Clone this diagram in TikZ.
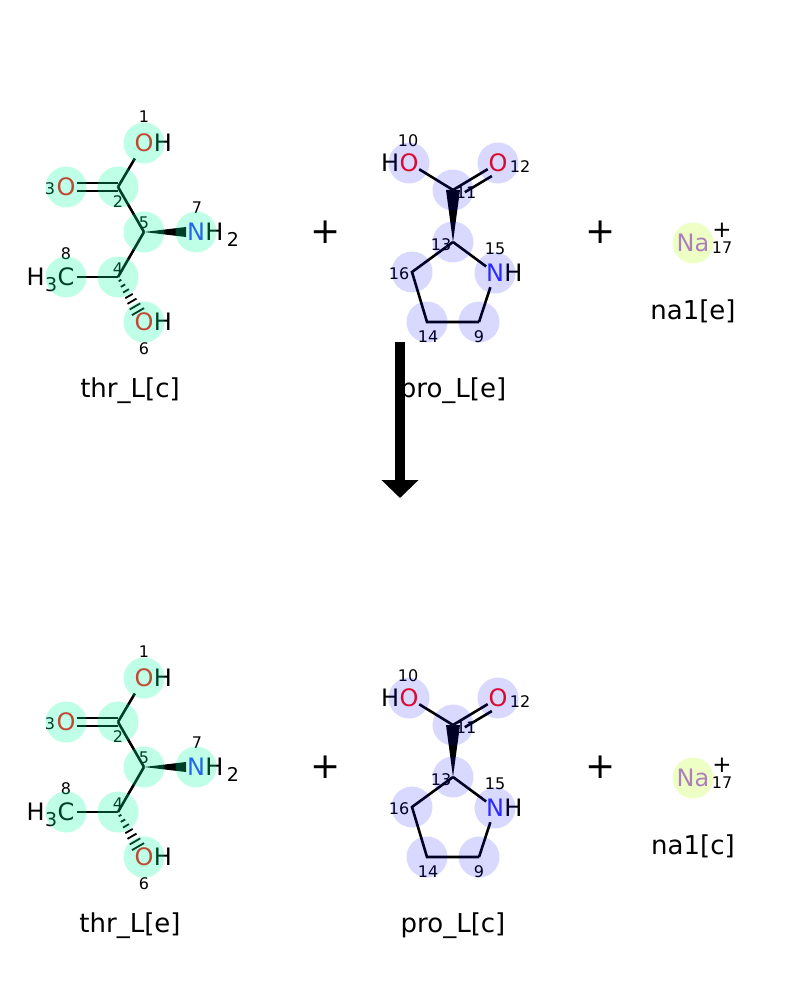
\documentclass[tikz,border=0pt]{standalone}
\usepackage{fontspec}
\setmainfont{DejaVu Sans}
\usetikzlibrary{calc,arrows.meta}
\definecolor{ored}{rgb}{1,0.05,0.05}
\definecolor{nblue}{rgb}{0.2,0.2,1}
\definecolor{napurp}{rgb}{0.67,0.36,0.95}
\definecolor{hlthr}{rgb}{0,1,0.65}
\definecolor{hlpro}{rgb}{0,0,1}
\definecolor{hlna}{rgb}{0.7,1,0}
\tikzset{
 bond/.style={line width=2.6pt, line cap=butt},
 hashbond/.style={line width=1.8pt},
 atom/.style={inner sep=0pt, font=\fontsize{24}{24}\selectfont},
 sub/.style={inner sep=0pt, font=\fontsize{19}{19}\selectfont},
 note/.style={inner sep=0pt, font=\fontsize{16}{16}\selectfont},
 legend/.style={inner sep=0pt, anchor=base, font=\fontsize{26}{26}\selectfont},
 plussign/.style={inner sep=0pt, font=\fontsize{36}{36}\selectfont},
 charge/.style={inner sep=0pt, font=\fontsize{23}{23}\selectfont},
 hlA/.style={fill=hlthr, fill opacity=0.25},
 hlB/.style={fill=hlpro, fill opacity=0.15},
 hlC/.style={fill=hlna, fill opacity=0.23},
}
\newcommand\rxnrow[4]{%
\begin{scope}[shift={(0,#4)}]
 % ---- threonine ----
 \coordinate (o1) at (144,143);
 \coordinate (c2) at (118,187);
 \coordinate (o3) at (66,187);
 \coordinate (c5) at (144,232);
 \coordinate (n7) at (196,232);
 \coordinate (c4) at (118,277);
 \coordinate (c8) at (66,277);
 \coordinate (o6) at (144,322);
 \draw[bond, shorten >=18pt] (c2) -- (o1);
 \draw[bond, shorten >=11pt] ([yshift=4pt]c2) -- ([yshift=4pt]o3);
 \draw[bond, shorten >=11pt] ([yshift=-4pt]c2) -- ([yshift=-4pt]o3);
 \draw[bond] (c2) -- (c5);
 \fill (c5) -- ($(n7)+(-10,-5)$) -- ($(n7)+(-10,5)$) -- cycle;
 \draw[bond] (c5) -- (c4);
 \draw[bond, shorten >=11pt] (c4) -- (c8);
 \foreach \d/\h in {4/1.5, 10/2.5, 16/3.4, 22/4.3, 28/5.2, 34/6.1, 40/7} {
   \coordinate (hp) at ($(c4)!{\d/52}!(o6)$);
   \draw[hashbond] ($(hp)!\h pt!90:(o6)$) -- ($(hp)!\h pt!-90:(o6)$);
 }
 \node[atom, text=ored] (t1) at (o1) {O};
 \node[atom, anchor=base west] at (t1.base east) {H};
 \node[atom, text=ored] (t3) at (o3) {O};
 \node[atom, text=nblue] (t7) at (n7) {N};
 \node[atom, anchor=base west] (t7h) at (t7.base east) {H};
 \node[sub, anchor=base west] at ([xshift=3pt,yshift=-6pt]t7h.base east) {2};
 \node[atom] (t8) at (c8) {C};
 \node[sub, anchor=base east] (t8s) at ([yshift=-6pt]t8.base west) {3};
 \node[atom, anchor=base east] at ([yshift=6pt]t8s.base west) {H};
 \node[atom, text=ored] (t6) at (o6) {O};
 \node[atom, anchor=base west] at (t6.base east) {H};
 \node[note] (m1) at (144,117) {1};
 \node[note] (m2) at (118,202) {2};
 \node[note] (m3) at (50,189) {3};
 \node[note] (m5) at (144,223) {5};
 \node[note] (m7) at (197,208) {7};
 \node[note] (m4) at (118,269) {4};
 \node[note] (m8) at (66,254) {8};
 \node[note] (m6) at (144,349) {6};
 % ---- proline ----
 \coordinate (o10) at (409,163);
 \coordinate (c11) at (453,190);
 \coordinate (o12) at (498,163);
 \coordinate (c13) at (453,242);
 \coordinate (n15) at (495,273);
 \coordinate (c16) at (412,272);
 \coordinate (c14) at (427,322);
 \coordinate (c9) at (479,322);
 \draw[bond, shorten >=12pt] (c11) -- (o10);
 \draw[bond, shorten >=12pt] (c11) -- (o12);
 \draw[bond, shorten <=9pt, shorten >=12pt] ($(c11)!8pt!-90:(o12)$) -- ($(o12)!8pt!90:(c11)$);
 \fill (c13) -- ($(c11)+(-7,0)$) -- ($(c11)+(7,0)$) -- cycle;
 \draw[bond, shorten >=11pt] (c13) -- (n15);
 \draw[bond, shorten <=15pt] (n15) -- (c9);
 \draw[bond] (c9) -- (c14) -- (c16) -- (c13);
 \node[atom, text=ored] (t10) at (o10) {O};
 \node[atom, anchor=base east] at (t10.base west) {H};
 \node[atom, text=ored] (t12) at (o12) {O};
 \node[atom, text=nblue] (t15) at (n15) {N};
 \node[atom, anchor=base west] at (t15.base east) {H};
 \node[note] (m10) at (408,141) {10};
 \node[note] (m12) at (520,167) {12};
 \node[note] (m11) at (466,193) {11};
 \node[note] (m13) at (441,245) {13};
 \node[note] (m15) at (495,249) {15};
 \node[note] (m16) at (399,274) {16};
 \node[note] (m14) at (428,337) {14};
 \node[note] (m9) at (479,337) {9};
 % ---- sodium ----
 \coordinate (na) at (693,243);
 \node[atom, text=napurp] (tna) at (na) {Na};
 \node[charge] (chg) at (722,230) {+};
 \node[note] (m17) at (722,247.5) {17};
 % ---- highlights ----
 \foreach \a in {o1,c2,o3,c5,n7,c4,c8,o6} {\fill[hlA] (\a) circle[radius=20.5pt];}
 \foreach \a in {o10,c11,o12,c13,n15,c16,c14,c9} {\fill[hlB] (\a) circle[radius=20.5pt];}
 \fill[hlC] (na) circle[radius=20.5pt];
 % ---- signs and legends ----
 \node[plussign] (p1) at (326,232) {+};
 \node[plussign] (p2) at (601,232) {+};
 \node[legend] (l1) at (130,397) {#1};
 \node[legend] (l2) at (453,397) {#2};
 \node[legend] (l3) at (693,319) {#3};
\end{scope}}
\begin{document}
\begin{tikzpicture}[x=1pt,y=-1pt]
\fill[white] (0,0) rectangle (800,1000);
\useasboundingbox (0,0) rectangle (800,1000);
\rxnrow{thr\_L[c]}{pro\_L[e]}{na1[e]}{0}
\rxnrow{thr\_L[e]}{pro\_L[c]}{na1[c]}{535}
\coordinate (arrS) at (400,342);
\coordinate (arrE) at (400,498);
\draw[line width=10pt, -{Triangle[width=36pt,length=18pt]}] (arrS) -- (arrE);
\end{tikzpicture}
\end{document}
